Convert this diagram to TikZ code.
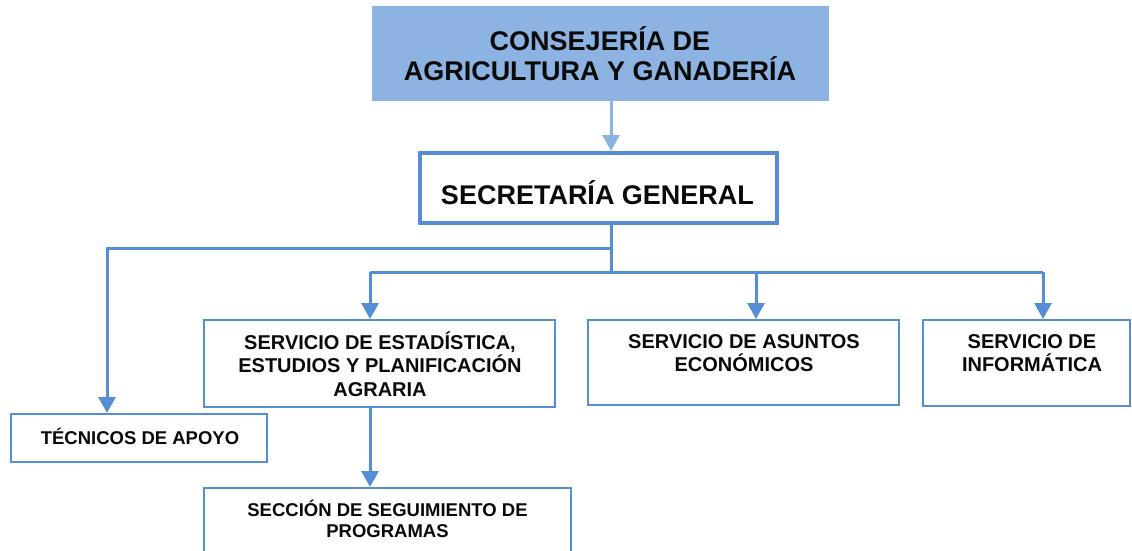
\documentclass[tikz,border=0pt]{standalone}
\usepackage{fontspec}
\setmainfont{Liberation Sans}
\usetikzlibrary{arrows.meta}
\definecolor{lineblue}{HTML}{558ED5}
\definecolor{topfill}{HTML}{8DB3E2}
\definecolor{toparrowc}{HTML}{8DB3E2}
\definecolor{txt}{HTML}{0A0A0A}
\begin{document}
\begin{tikzpicture}[x=1pt,y=-1pt,
  box/.style={draw=lineblue, line width=2pt, rectangle, inner sep=0pt, fill=white},
  bigfont/.style={font=\fontsize{27}{30}\selectfont\bfseries, text=txt, align=center},
  midfont/.style={font=\fontsize{20}{23.5}\selectfont\bfseries, text=txt, align=center},
  smallfont/.style={font=\fontsize{18.5}{21}\selectfont\bfseries, text=txt, align=center},
  conn/.style={draw=lineblue, line width=3pt},
  tipped/.style={-{Triangle[width=17pt,length=16pt]}}
]
\useasboundingbox (0,0) rectangle (1132,550);
\fill[white] (0,0) rectangle (1132,550);

% boxes
\node[rectangle, fill=topfill, draw=topfill, line width=0.5pt, minimum width=456pt, minimum height=94pt, inner sep=0pt] (cons) at (600,53) {};
\node[bigfont] (cons-t) at (600,54) {CONSEJERÍA DE\\AGRICULTURA Y GANADERÍA};

\node[box, line width=4pt, minimum width=357pt, minimum height=70pt] (sec) at (598.5,188) {};
\node[bigfont] (sec-t) at (597.5,193) {SECRETARÍA GENERAL};

\node[box, minimum width=351pt, minimum height=87pt] (est) at (379.5,363.5) {};
\node[midfont] (est-t) at (380,364) {SERVICIO DE ESTADÍSTICA,\\ESTUDIOS Y PLANIFICACIÓN\\AGRARIA};

\node[box, minimum width=311pt, minimum height=85pt] (asu) at (743.5,362.5) {};
\node[midfont] (asu-t) at (744,353) {SERVICIO DE ASUNTOS\\ECONÓMICOS};

\node[box, minimum width=207pt, minimum height=86pt] (inf) at (1026.5,363) {};
\node[midfont] (inf-t) at (1032,353) {SERVICIO DE\\INFORMÁTICA};

\node[box, minimum width=256pt, minimum height=48pt] (tec) at (139,438) {};
\node[smallfont] (tec-t) at (140,436) {TÉCNICOS DE APOYO};

\node[box, minimum width=367pt, minimum height=64pt] (secc) at (387.5,520) {};
\node[smallfont] (secc-t) at (387.5,519) {SECCIÓN DE SEGUIMIENTO DE\\PROGRAMAS};

% junction coordinates
\coordinate (j1) at (611,248);
\coordinate (j2) at (611,272);
\coordinate (tl) at (107,248);
\coordinate (r1) at (370,272);
\coordinate (r2) at (756,272);
\coordinate (r3) at (1043,272);

% connectors
\draw[draw=toparrowc, line width=3pt, tipped] (cons.south -| j1) -- (sec.north -| j1);
\draw[conn] (sec.south -| j1) -- (j2);
\draw[conn, tipped] (j1) -- (tl) -- (tl |- tec.north);
\draw[conn] (r1) -- (r3);
\draw[conn, tipped] (r1) -- (r1 |- est.north);
\draw[conn, tipped] (r2) -- (r2 |- asu.north);
\draw[conn, tipped] (r3) -- (r3 |- inf.north);
\draw[conn, tipped] (est.south -| r1) -- (r1 |- secc.north);
\end{tikzpicture}
\end{document}
